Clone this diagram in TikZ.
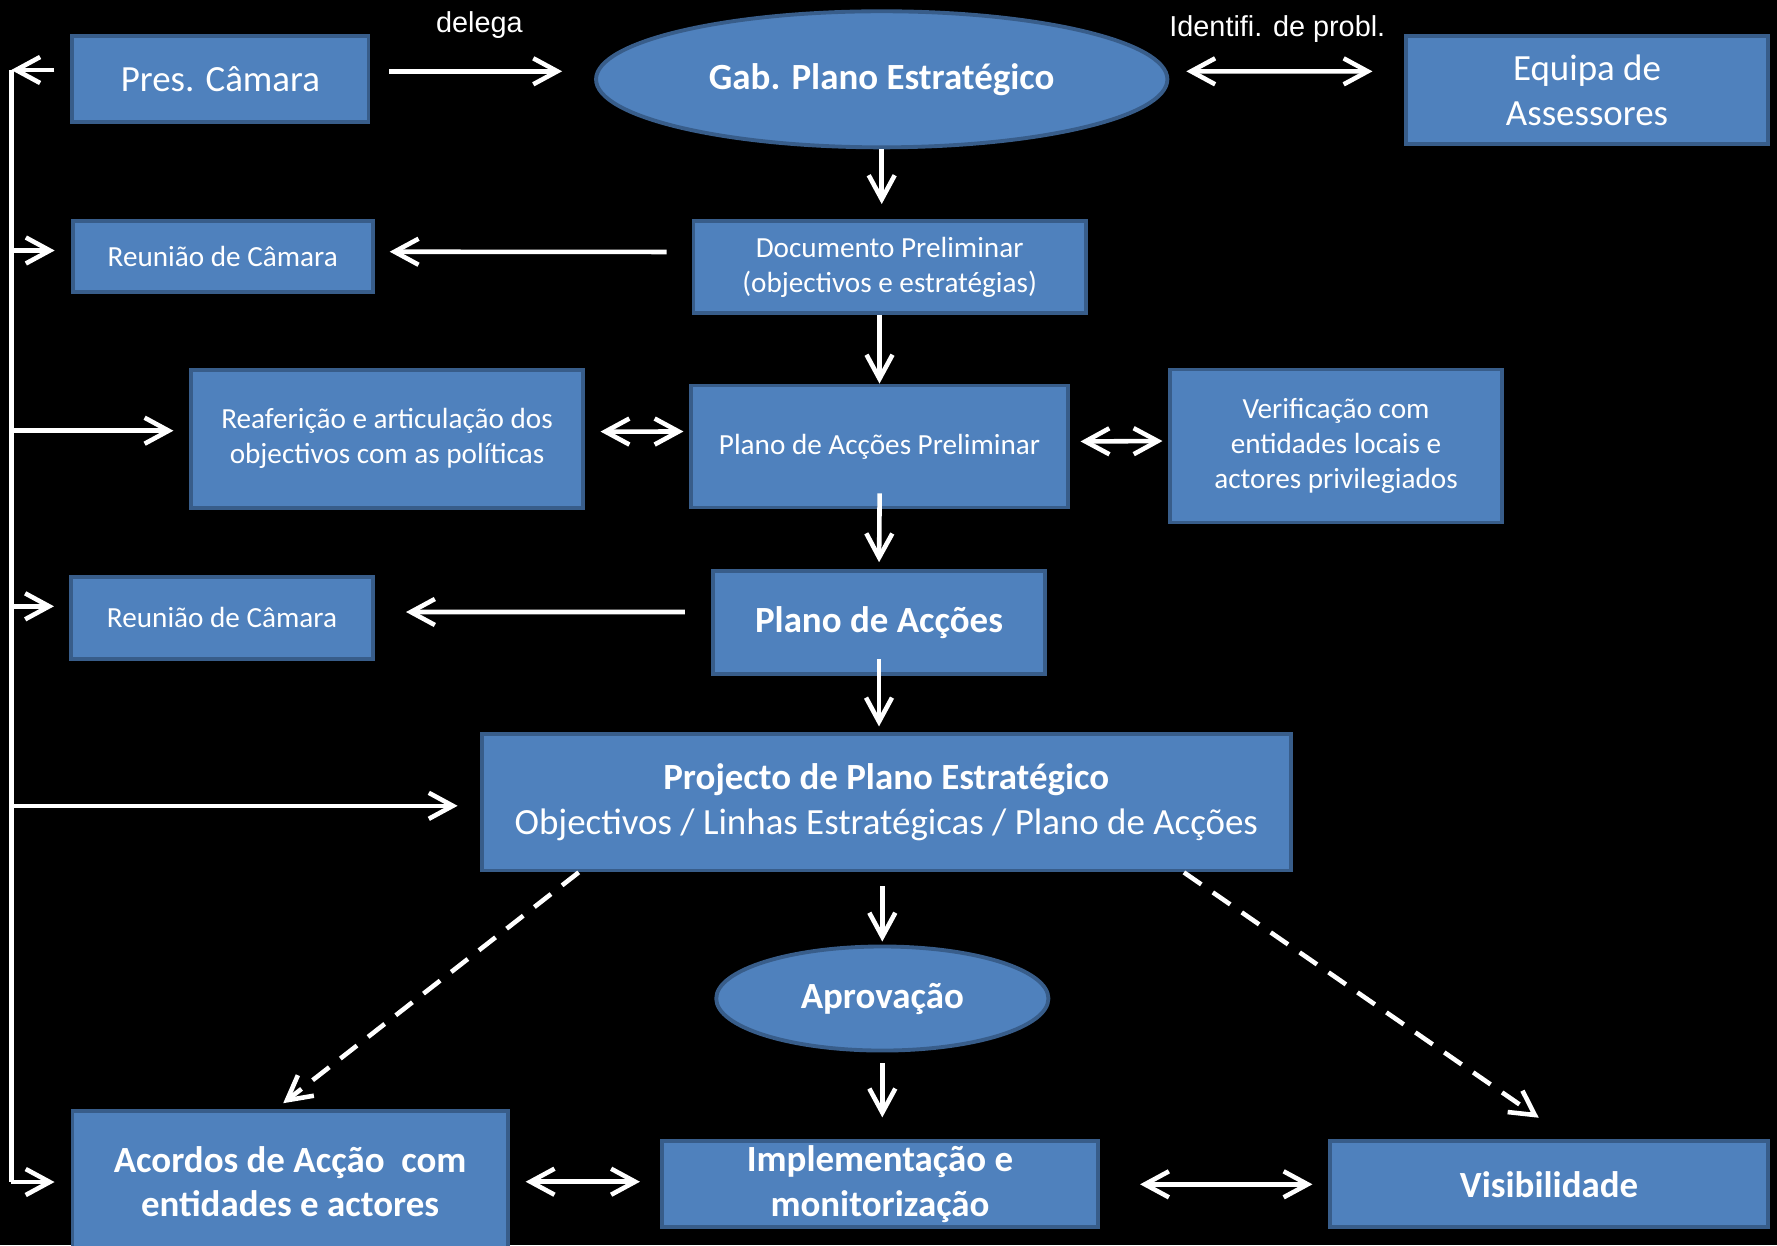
\documentclass[tikz,border=0pt]{standalone}
\usepackage{fontspec}
\setmainfont{Carlito}
\newfontfamily\arialfont{Liberation Sans}
\usepackage{tikz}
\usetikzlibrary{positioning}
\usetikzlibrary{calc}
\usetikzlibrary{shapes.geometric}
\usetikzlibrary{arrows.meta}
\definecolor{boxblue}{rgb}{0.30980392, 0.50588235, 0.74117647}
\definecolor{boxline}{rgb}{0.21960784, 0.36470588, 0.54117647}
\newcommand{\txtS}{\fontsize{8.3}{10}\selectfont}
\newcommand{\txtL}{\fontsize{10.5}{12.7}\selectfont}

\begin{document}
\begin{tikzpicture}[x=0.01cm, y=-0.01cm,
    box/.style={rectangle, fill=boxblue, draw=boxline, line width=1.1pt, text=white, align=center, inner sep=0pt},
    oval/.style={ellipse, fill=boxblue, draw=boxline, line width=1.1pt, text=white, align=center, inner sep=0pt},
    arr/.style={-{Straight Barb[length=2.4mm, width=2.6mm]}, draw=white, line width=1.3pt},
    twoarr/.style={{Straight Barb[length=2.4mm, width=2.6mm]}-{Straight Barb[length=2.4mm, width=2.6mm]}, draw=white, line width=1.3pt},
    dasharr/.style={arr, dash pattern=on 6pt off 4pt},
    wire/.style={draw=white, line width=1.3pt},
    lbl/.style={text=white, font=\arialfont\fontsize{8.2}{10}\selectfont}]

    \fill[black] (0,0) rectangle (1777,1245);
    \clip (0,0) rectangle (1777,1245);

    \node[box, minimum width=2.96cm, minimum height=0.86cm, font=\txtL] (pres) at (220.4,79.3) {Pres. Câmara};
    \node[oval, minimum width=5.71cm, minimum height=1.36cm, font=\txtL\bfseries] (gab) at (881.7,79.3) {Gab. Plano Estratégico};
    \node[box, minimum width=3.61cm, minimum height=1.08cm, font=\txtL] (equipa) at (1587,90) {Equipa de\\Assessores};
    \node[box, minimum width=3.00cm, minimum height=0.71cm, font=\txtS] (reun1) at (222.7,256.7) {Reunião de Câmara};
    \node[box, minimum width=3.92cm, minimum height=0.92cm, font=\txtS] (doc) at (889.6,267) {Documento Preliminar\\(objectivos e estratégias)};
    \node[box, minimum width=3.91cm, minimum height=1.38cm, font=\txtS] (reaf) at (387,438.6) {Reaferição e articulação dos\\objectivos com as políticas};
    \node[box, minimum width=3.76cm, minimum height=1.22cm, font=\txtS] (prelim) at (879.5,446.5) {Plano de Acções Preliminar};
    \node[box, minimum width=3.31cm, minimum height=1.53cm, font=\txtS] (verif) at (1336,446) {Verificação com\\entidades locais e\\actores privilegiados};
    \node[box, minimum width=3.02cm, minimum height=0.82cm, font=\txtS] (reun2) at (222,617.7) {Reunião de Câmara};
    \node[box, minimum width=3.32cm, minimum height=1.03cm, font=\txtL\bfseries] (plano) at (879,622.7) {Plano de Acções};
    \node[box, minimum width=8.09cm, minimum height=1.36cm, font=\txtL] (proj) at (886.3,802.4) {\textbf{Projecto de Plano Estratégico}\\Objectivos / Linhas Estratégicas / Plano de Acções};
    \node[oval, minimum width=3.32cm, minimum height=1.04cm, font=\txtL\bfseries] (aprov) at (882.3,998.5) {Aprovação};
    \node[box, minimum width=4.35cm, minimum height=1.42cm, font=\txtL\bfseries] (acordos) at (290.1,1181.7) {Acordos de Acção~ com\\entidades e actores};
    \node[box, minimum width=4.36cm, minimum height=0.86cm, font=\txtL\bfseries] (impl) at (880,1184.3) {Implementação e\\monitorização};
    \node[box, minimum width=4.37cm, minimum height=0.86cm, font=\txtL\bfseries] (visib) at (1549,1184.3) {Visibilidade};

    \node[lbl] (delega) at (479.4,25) {delega};
    \node[lbl] (ident) at (1277.3,29.5) {Identifi. de probl.};

    \coordinate (r1) at (11.3,70);
    \coordinate (r2) at (11.3,250.5);
    \coordinate (r3) at (11.3,430.7);
    \coordinate (r4) at (11.3,606.3);
    \coordinate (r5) at (11.3,805.8);
    \coordinate (r6) at (11.3,1182);

    \draw[wire] (r1) -- (r6);
    \draw[arr, shorten <=0.16cm] (pres.west |- r1) -- (r1);
    \draw[arr, shorten >=0.16cm] (r2) -- (reun1.west |- r2);
    \draw[arr, shorten >=0.16cm] (r3) -- (reaf.west |- r3);
    \draw[arr, shorten >=0.15cm] (r4) -- (reun2.west |- r4);
    \draw[arr, shorten >=0.22cm] (r5) -- (proj.west |- r5);
    \draw[arr, shorten >=0.16cm] (r6) -- (acordos.west |- r6);

    \draw[arr, shorten <=0.19cm, shorten >=0.32cm] ([yshift=0.08cm]pres.east) -- ([yshift=0.08cm]gab.west);
    \draw[twoarr, shorten <=0.17cm, shorten >=0.32cm] ([yshift=0.08cm]gab.east) -- ([yshift=0.186cm]equipa.west);
    \draw[arr, shorten >=0.15cm] (gab.south) -- (gab.south |- doc.north);
    \draw[arr, shorten <=0.25cm, shorten >=0.15cm] ([yshift=0.15cm]doc.west) -- ([yshift=0.05cm]reun1.east);
    \draw[arr] (prelim |- doc.south) -- (prelim.north);
    \draw[twoarr, shorten <=0.16cm, shorten >=0.06cm] ([yshift=0.07cm]reaf.east) -- ([yshift=0.15cm]prelim.west);
    \draw[twoarr, shorten <=0.11cm, shorten >=0.06cm] ([yshift=0.05cm]prelim.east) -- ([yshift=0.05cm]verif.west);
    \draw[arr, shorten <=-0.16cm, shorten >=0.07cm] (prelim.south) -- (plano.north);
    \draw[arr, shorten <=0.26cm, shorten >=0.31cm] ([yshift=0.107cm]plano.west) -- ([yshift=0.057cm]reun2.east);
    \draw[arr, shorten <=-0.17cm, shorten >=0.06cm] (plano.south) -- (plano.south |- proj.north);
    \draw[arr, shorten <=0.14cm, shorten >=0.03cm] (aprov |- proj.south) -- (aprov.north);
    \draw[arr, shorten <=0.11cm, shorten >=0.22cm] (aprov.south) -- (aprov.south |- impl.north);
    \draw[dasharr, shorten >=0.09cm] ([xshift=0.99cm]proj.south west) -- ([xshift=-0.14cm]acordos.north);
    \draw[dasharr, shorten >=0.38cm] ([xshift=-1.09cm]proj.south east) -- ([xshift=0.21cm]visib.north);
    \draw[twoarr, shorten <=0.16cm, shorten >=0.2cm] (acordos.east) -- (acordos.east -| impl.west);
    \draw[twoarr, shorten <=0.4cm, shorten >=0.16cm] (impl.east) -- (visib.west);
\end{tikzpicture}
\end{document}
